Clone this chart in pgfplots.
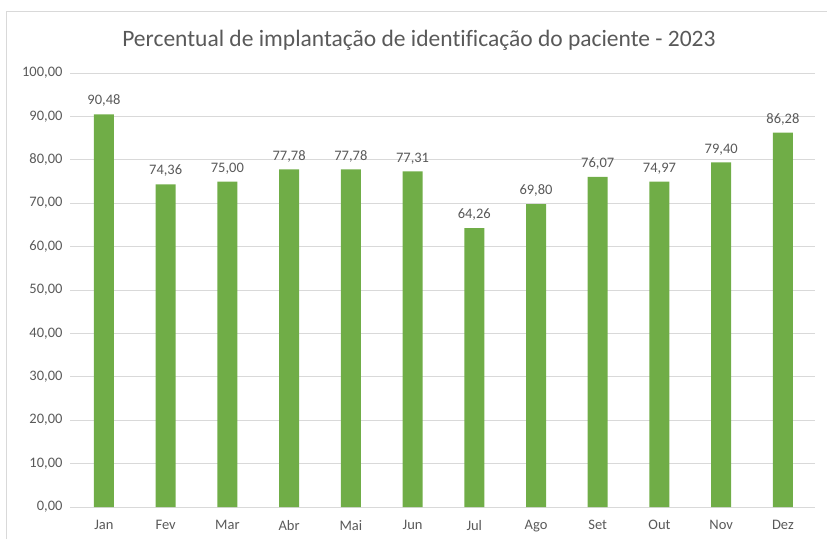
\documentclass[border=0pt]{standalone}
\usepackage{fontspec}
\setmainfont{Carlito}[Ligatures=CommonOff]
\usepackage{pgfplots}
\pgfplotsset{compat=1.18}
\definecolor{barg}{HTML}{70AD47}
\definecolor{txtg}{HTML}{595959}
\definecolor{gridg}{HTML}{D9D9D9}
\begin{document}
\begin{tikzpicture}[x=1pt,y=1pt]
\useasboundingbox (0,0) rectangle (827,-539);
\draw[gridg,line width=1pt] (6,-539) -- (6,-11) -- (827,-11);
\node[txtg,font=\fontsize{23.5}{27}\selectfont] at (419,-40) {Percentual de implantação de identificação do paciente - 2023};
\begin{axis}[
  at={(70pt,-507pt)}, anchor=south west,
  scale only axis, width=745pt, height=434pt,
  xmin=-0.55, xmax=11.52, ymin=0, ymax=100,
  ytick={0,10,...,100},
  xtick={0,...,11},
  xticklabels={Jan,Fev,Mar,Abr,Mai,Jun,Jul,Ago,Set,Out,Nov,Dez},
  axis line style={draw=none},
  axis x line*=bottom,
  x axis line style={draw=gridg,line width=1pt},
  major tick length=0pt,
  ymajorgrids, grid style={gridg,line width=1pt},
  yticklabel style={txtg,font=\fontsize{14.5}{16}\selectfont},
  xticklabel style={txtg,font=\fontsize{14.5}{16}\selectfont},
  /pgf/number format/.cd, assume math mode=true, fixed, fixed zerofill, precision=2, use comma, 1000 sep={},
  /pgfplots/.cd,
  yticklabel style={xshift=-4pt},
  xticklabel style={yshift=-10pt},
  nodes near coords,
  every node near coord/.append style={txtg,font=\fontsize{14.5}{16}\selectfont,yshift=4pt},
]
\addplot[ybar, bar width=20pt, fill=barg, draw=none] coordinates {
(0,90.48) (1,74.36) (2,75.00) (3,77.78) (4,77.78) (5,77.31)
(6,64.26) (7,69.80) (8,76.07) (9,74.97) (10,79.40) (11,86.28)};
\end{axis}
\end{tikzpicture}
\end{document}
